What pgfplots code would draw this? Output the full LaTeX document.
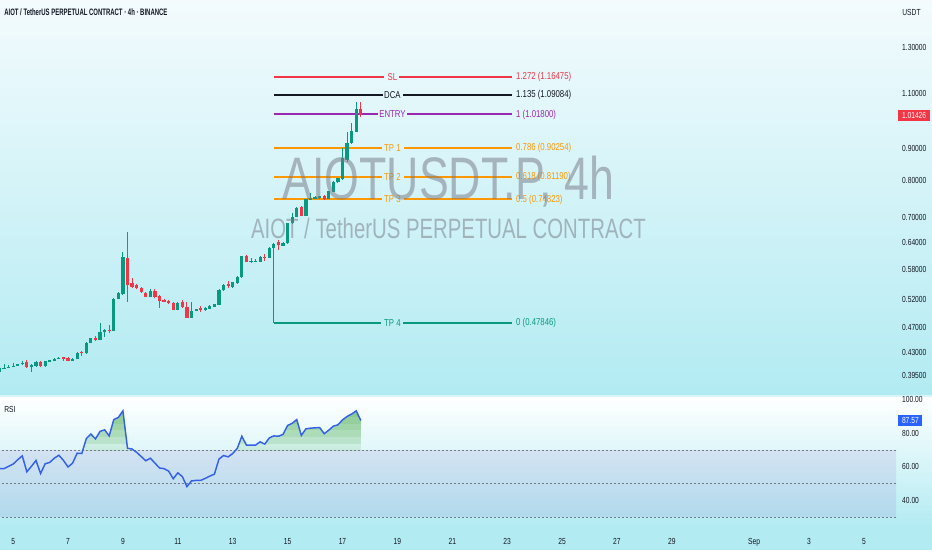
\documentclass[border=0pt]{standalone}
\usepackage{fontspec}
\setmainfont{Liberation Sans}
\usepackage{pgfplots}
\pgfplotsset{compat=1.18}
\usepackage{pgfplotstable}

\definecolor{tvgreen}{HTML}{089981}
\definecolor{tvred}{HTML}{F23645}
\definecolor{tvtext}{HTML}{131722}
\definecolor{tvpurple}{HTML}{9C27B0}
\definecolor{tvorange}{HTML}{FF9800}
\definecolor{tvblue}{HTML}{2962FF}
\definecolor{rsiline}{HTML}{3461E8}
\definecolor{bgtop}{HTML}{F3FBFD}
\definecolor{bgbot}{HTML}{B2EBF2}
\definecolor{dashgray}{HTML}{787B86}
\definecolor{bandcol}{HTML}{7E57C2}
\definecolor{wmark}{HTML}{787B86}
\definecolor{obfill}{HTML}{4CAF50}

\newcommand{\tickfont}{\fontsize{6.6}{7}\selectfont}
\newcommand{\fibfont}{\fontsize{7.5}{8}\selectfont}

% 4h candles, x in days of August (Sep 1 = 32)
\pgfplotstableread{
x      o       h       l       c
4.500  0.4009  0.4093  0.3990  0.4068
4.667  0.4053  0.4118  0.4048  0.4068
4.833  0.4068  0.4107  0.4063  0.4082
5.000  0.4078  0.4137  0.4073  0.4097
5.167  0.4097  0.4125  0.4092  0.4118
5.333  0.4118  0.4167  0.4113  0.4142
5.500  0.4148  0.4182  0.4063  0.4078
5.667  0.4082  0.4122  0.4009  0.4107
5.833  0.4088  0.4165  0.4083  0.4157
6.000  0.4157  0.4165  0.4080  0.4088
6.167  0.4088  0.4172  0.4083  0.4167
6.333  0.4157  0.4185  0.4152  0.4178
6.500  0.4172  0.4205  0.4168  0.4198
6.667  0.4198  0.4233  0.4193  0.4217
6.833  0.4224  0.4233  0.4172  0.4198
7.000  0.4213  0.4220  0.4160  0.4167
7.167  0.4172  0.4205  0.4168  0.4198
7.333  0.4198  0.4310  0.4193  0.4290
7.500  0.4301  0.4321  0.4248  0.4285
7.667  0.4285  0.4455  0.4280  0.4448
7.833  0.4443  0.4535  0.4440  0.4525
8.000  0.4534  0.4562  0.4485  0.4492
8.167  0.4497  0.4777  0.4490  0.4634
8.333  0.4634  0.4680  0.4551  0.4668
8.500  0.4668  0.4748  0.4607  0.4646
8.667  0.4646  0.5230  0.4640  0.5217
8.833  0.5217  0.5340  0.5210  0.5326
9.000  0.5307  0.6186  0.5300  0.6068
9.167  0.6059  0.6657  0.5166  0.5488
9.333  0.5528  0.5623  0.5423  0.5449
9.500  0.5488  0.5500  0.5400  0.5423
9.667  0.5435  0.5450  0.5330  0.5345
9.833  0.5338  0.5350  0.5250  0.5261
10.000 0.5261  0.5409  0.5255  0.5370
10.167 0.5370  0.5409  0.5230  0.5261
10.333 0.5280  0.5290  0.5055  0.5179
10.500 0.5198  0.5210  0.5155  0.5166
10.667 0.5179  0.5190  0.5125  0.5136
10.833 0.5147  0.5155  0.5005  0.5013
11.000 0.5013  0.5160  0.5005  0.5147
11.167 0.5155  0.5198  0.5044  0.5062
11.333 0.5073  0.5166  0.4865  0.4875
11.500 0.4875  0.5155  0.4870  0.4995
11.667 0.4995  0.5035  0.4990  0.5026
11.833 0.5044  0.5086  0.4972  0.5007
12.000 0.5007  0.5062  0.5000  0.5055
12.167 0.5037  0.5095  0.5030  0.5086
12.333 0.5068  0.5130  0.5060  0.5123
12.500 0.5105  0.5400  0.5100  0.5390
12.667 0.5384  0.5500  0.5378  0.5488
12.833 0.5508  0.5568  0.5423  0.5469
13.000 0.5455  0.5555  0.5423  0.5542
13.167 0.5522  0.5665  0.5515  0.5656
13.333 0.5644  0.6105  0.5635  0.6096
13.500 0.6096  0.6110  0.5960  0.5972
13.667 0.5980  0.6046  0.5937  0.5994
13.833 0.5975  0.6020  0.5960  0.5990
14.000 0.5972  0.6090  0.5965  0.6081
14.167 0.6081  0.6141  0.5987  0.6046
14.333 0.6046  0.6290  0.6040  0.6283
14.500 0.6269  0.6375  0.6260  0.6367
14.667 0.6406  0.6460  0.6230  0.6344
14.833 0.6328  0.6405  0.6320  0.6397
15.000 0.6383  0.6870  0.6375  0.6863
15.167 0.6863  0.7117  0.6855  0.7029
15.333 0.7029  0.7270  0.7020  0.7262
15.500 0.7289  0.7300  0.7045  0.7055
15.667 0.7055  0.7505  0.7045  0.7495
15.833 0.7476  0.7651  0.7470  0.7530
16.000 0.7495  0.7565  0.7488  0.7557
16.167 0.7514  0.7585  0.7505  0.7577
16.333 0.7585  0.7595  0.7480  0.7487
16.500 0.7495  0.7725  0.7488  0.7715
16.667 0.7696  0.7990  0.7690  0.7980
16.833 0.7963  0.8090  0.7955  0.8079
17.000 0.8058  0.9006  0.8029  0.8686
17.167 0.8632  0.9565  0.8579  0.9191
17.333 0.9171  0.9860  0.9160  0.9589
17.500 0.9565  1.0663  0.9555  1.0384
17.667 1.0384  1.0663  1.0088  1.01426
}\ohlc

% RSI (14) on the same candles
\pgfplotstableread{
x      rsi
4.500  58.9
4.667  58.9
4.833  60.3
5.000  61.6
5.167  64.2
5.333  66.5
5.500  57.0
5.667  60.3
5.833  63.8
6.000  56.0
6.167  61.8
6.333  62.6
6.500  65.1
6.667  66.9
6.833  63.8
7.000  59.9
7.167  62.2
7.333  68.1
7.500  67.9
7.667  76.8
7.833  79.5
8.000  76.6
8.167  81.1
8.333  82.0
8.500  78.4
8.667  88.1
8.833  89.4
9.000  93.3
9.167  71.0
9.333  70.6
9.500  68.6
9.667  66.1
9.833  63.6
10.000 65.1
10.167 62.2
10.333 59.3
10.500 58.9
10.667 57.4
10.833 52.9
11.000 56.4
11.167 54.1
11.333 48.2
11.500 51.6
11.667 51.9
11.833 51.9
12.000 53.1
12.167 54.5
12.333 55.6
12.500 64.6
12.667 66.7
12.833 65.9
13.000 67.9
13.167 71.0
13.333 78.2
13.500 72.9
13.667 72.9
13.833 72.9
14.000 74.9
14.167 73.5
14.333 77.2
14.500 78.4
14.667 78.2
14.833 79.3
15.000 84.6
15.167 85.9
15.333 88.1
15.500 78.7
15.667 82.6
15.833 83.0
16.000 83.2
16.167 83.4
16.333 79.7
16.500 81.8
16.667 84.2
16.833 85.0
17.000 87.9
17.167 90.0
17.333 91.4
17.500 93.3
17.667 87.57
}\rsidata

% fib level: colour, price, gap start, gap end, name, right label
\newcommand{\fib}[6]{%
  \addplot[#1, line width=1.5pt] coordinates {(14.5,#2) (#3,#2) (#3,nan) (#4,#2) (23.18,#2)};
  \node[text=#1, font=\fibfont, xscale=0.78] at (axis cs:18.82,#2) {#5};
  \node[text=#1, font=\fibfont, xscale=0.78, anchor=west, inner xsep=0pt] at (axis cs:23.32,#2) {#6};
}
% overbought layer: RSI area clipped to the part above a given level
\newcommand{\obfill}[1]{%
  \begin{scope}
    \clip (axis cs:4.4,#1) rectangle (axis cs:17.8,101);
    \addplot[fill=obfill, fill opacity=0.15, draw=none] table[x=x, y=rsi] {\rsidata} \closedcycle;
  \end{scope}
}

\begin{document}
\begin{tikzpicture}[x=0.75pt,y=0.75pt]
% pane backgrounds (they span the whole picture)
\shade[top color=bgtop, bottom color=bgbot] (0,155) rectangle (932,550);
\shade[top color=white, bottom color=bgbot] (0,23) rectangle (932,153);
\fill[bgbot] (0,0) rectangle (932,23);
\fill[bgbot!50!white] (0,153) rectangle (932,155);

% price pane
\begin{axis}[
  at={(0pt,116.25pt)}, anchor=south west,
  width=672pt, height=296.25pt, scale only axis,
  ymode=log, xmin=4.5264, xmax=37.167, ymin=0.3684, ymax=1.5414,
  axis line style={draw=none},
  major tick length=0pt, minor tick length=0pt,
  xtick=\empty,
  ytick={0.395,0.43,0.47,0.52,0.58,0.64,0.70,0.80,0.90,1.10,1.30},
  yticklabels={0.39500,0.43000,0.47000,0.52000,0.58000,0.64000,0.70000,0.80000,0.90000,1.10000,1.30000},
  yticklabel pos=right,
  yticklabel style={anchor=west, inner sep=0pt, xshift=4.5pt, font=\tickfont, text=tvtext, xscale=0.76},
  extra y ticks={1.01426}, extra y tick labels={1.01426},
  extra y tick style={yticklabel style={fill=tvred, text=white, inner xsep=3.6pt, inner ysep=1.7pt, xshift=-3.8pt}},
  unbounded coords=jump,
]
% fib tool (behind the candles)
\addplot[tvgreen, line width=0.8pt] coordinates {(14.5,0.47846) (14.5,0.6383)};
\fib{tvred}{1.16475}{18.515}{19.062}{SL}{1.272 (1.16475)}
\fib{tvtext}{1.09084}{18.468}{19.197}{DCA}{1.135 (1.09084)}
\fib{tvpurple}{1.01800}{18.286}{19.364}{ENTRY}{1 (1.01800)}
\fib{tvorange}{0.90254}{18.431}{19.244}{TP 1}{0.786 (0.90254)}
\fib{tvorange}{0.81190}{18.431}{19.244}{TP 2}{0.618 (0.81190)}
\fib{tvorange}{0.74823}{18.431}{19.244}{TP 3}{0.5 (0.74823)}
\fib{tvgreen}{0.47846}{18.395}{19.218}{TP 4}{0 (0.47846)}
% candles
\pgfplotstablegetrowsof{\ohlc}
\pgfmathtruncatemacro{\lastrow}{\pgfplotsretval-1}
\pgfplotsinvokeforeach{0,...,\lastrow}{
  \pgfplotstablegetelem{#1}{x}\of\ohlc \let\valx\pgfplotsretval
  \pgfplotstablegetelem{#1}{o}\of\ohlc \let\valo\pgfplotsretval
  \pgfplotstablegetelem{#1}{h}\of\ohlc \let\valh\pgfplotsretval
  \pgfplotstablegetelem{#1}{l}\of\ohlc \let\vall\pgfplotsretval
  \pgfplotstablegetelem{#1}{c}\of\ohlc \let\valc\pgfplotsretval
  \ifdim\valc pt<\valo pt \def\candcol{tvred}\else\def\candcol{tvgreen}\fi
  \edef\temp{%
    \noexpand\addplot[\candcol, line width=0.7pt] coordinates {(\valx,\vall) (\valx,\valh)};
    \noexpand\addplot[\candcol, line width=2.4pt] coordinates {(\valx,\valo) (\valx,\valc)};
  }\temp
}
% watermark
\node[anchor=base, text=wmark, opacity=0.52, font=\fontsize{45}{50}\selectfont, xscale=0.745] at (axis cs:20.86,0.7487) {AIOTUSDT.P, 4h};
\node[anchor=base, text=wmark, opacity=0.52, font=\fontsize{21}{24}\selectfont, xscale=0.727] at (axis cs:20.86,0.650) {AIOT / TetherUS PERPETUAL CONTRACT};
\end{axis}

% RSI pane
\begin{axis}[
  at={(0pt,17.25pt)}, anchor=south west,
  width=672pt, height=97.5pt, scale only axis,
  xmin=4.5264, xmax=37.167, ymin=24.2, ymax=101.6,
  axis line style={draw=none},
  major tick length=0pt,
  xtick={5,7,9,11,13,15,17,19,21,23,25,27,29,32,34,36},
  xticklabels={5,7,9,11,13,15,17,19,21,23,25,27,29,Sep,3,5},
  xticklabel style={anchor=base, yshift=-13pt, font=\tickfont, text=tvtext, xscale=0.76},
  ytick={40,60,80,100},
  yticklabels={40.00,60.00,80.00,100.00},
  yticklabel pos=right,
  yticklabel style={anchor=west, inner sep=0pt, xshift=4.5pt, font=\tickfont, text=tvtext, xscale=0.76},
  extra y ticks={87.57}, extra y tick labels={87.57},
  extra y tick style={yticklabel style={fill=tvblue, text=white, inner xsep=3.6pt, inner ysep=2.1pt, xshift=-3.8pt}},
]
\addplot[draw=none, fill=bandcol, fill opacity=0.12] coordinates {(4,30) (38,30) (38,70) (4,70)};
\addplot[dashgray, line width=0.55pt, dash pattern=on 1.5pt off 1.5pt] coordinates {(4,70) (38,70)};
\addplot[dashgray, line width=0.55pt, dash pattern=on 1.5pt off 1.5pt] coordinates {(4,50) (38,50)};
\addplot[dashgray, line width=0.55pt, dash pattern=on 1.5pt off 1.5pt] coordinates {(4,30) (38,30)};
% overbought fill, stacked so that it deepens with height
\obfill{70}
\obfill{74}
\obfill{78}
\obfill{82}
\obfill{86}
\obfill{90}
\addplot[rsiline, line width=1.1pt] table[x=x, y=rsi] {\rsidata};
\end{axis}

% labels outside the axes
\node[anchor=west, font=\fontsize{7}{8}\selectfont\bfseries, text=tvtext, xscale=0.64, inner sep=0pt] at (4,537.3) {AIOT / TetherUS PERPETUAL CONTRACT · 4h · BINANCE};
\node[font=\tickfont, text=tvtext, xscale=0.76] at (911.5,537.5) {USDT};
\node[anchor=west, font=\tickfont, text=tvtext, xscale=0.76, inner sep=0pt] at (4,140.5) {RSI};
\end{tikzpicture}
\end{document}
